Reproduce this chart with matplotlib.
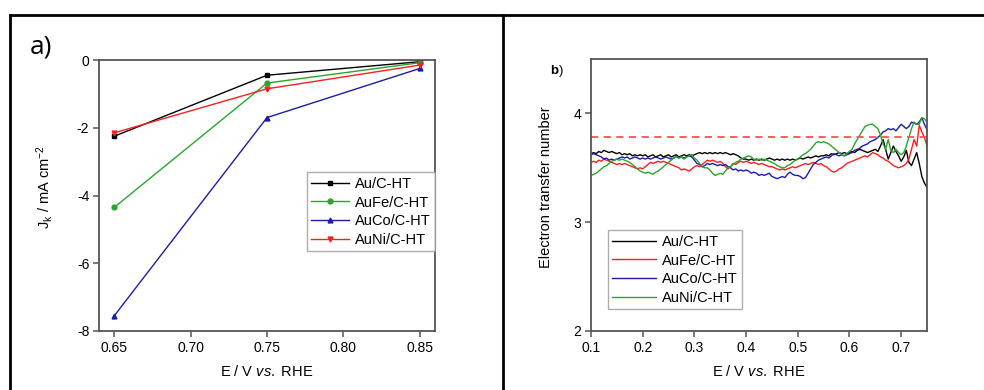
import numpy as np
import matplotlib
matplotlib.use("Agg")
import matplotlib.pyplot as plt
from matplotlib.lines import Line2D

plt.rcParams['font.family'] = ['Liberation Sans', 'DejaVu Sans']
plt.rcParams['mathtext.fontset'] = 'custom'
plt.rcParams['mathtext.rm'] = 'Liberation Sans'
plt.rcParams['mathtext.it'] = 'Liberation Sans:italic'
plt.rcParams['mathtext.bf'] = 'Liberation Sans:bold'

# ---------------- data: panel a ----------------
E_a = [0.65, 0.75, 0.85]
jk_au = [-2.25, -0.45, -0.05]
jk_aufe = [-4.35, -0.68, -0.08]
jk_auco = [-7.55, -1.70, -0.25]
jk_auni = [-2.15, -0.85, -0.15]
labels = ['Au/C-HT', 'AuFe/C-HT', 'AuCo/C-HT', 'AuNi/C-HT']

# ---------------- data: panel b ----------------
E_b = np.round(np.arange(0.100, 0.7501, 0.005), 3)
n_au = [3.63,3.64,3.63,3.65,3.64,3.66,3.65,3.64,3.65,3.64,
        3.63,3.64,3.62,3.63,3.62,3.63,3.61,3.62,3.61,3.62,
        3.61,3.62,3.60,3.61,3.62,3.60,3.61,3.62,3.60,3.61,
        3.62,3.60,3.61,3.62,3.60,3.61,3.62,3.61,3.62,3.61,
        3.62,3.63,3.64,3.63,3.64,3.63,3.64,3.63,3.64,3.63,
        3.64,3.63,3.64,3.63,3.62,3.63,3.62,3.61,3.59,3.58,
        3.58,3.57,3.58,3.57,3.58,3.57,3.58,3.57,3.58,3.59,
        3.58,3.57,3.58,3.57,3.58,3.57,3.58,3.57,3.58,3.57,
        3.58,3.59,3.58,3.59,3.60,3.59,3.60,3.61,3.60,3.61,
        3.61,3.62,3.61,3.63,3.62,3.63,3.64,3.63,3.64,3.63,
        3.64,3.65,3.64,3.66,3.67,3.66,3.65,3.64,3.65,3.66,
        3.67,3.65,3.70,3.76,3.67,3.58,3.64,3.70,3.65,3.61,
        3.56,3.60,3.66,3.55,3.52,3.58,3.64,3.54,3.42,3.36,
        3.32]
n_aufe = [3.55,3.56,3.55,3.57,3.56,3.58,3.57,3.56,3.55,3.54,
          3.53,3.54,3.53,3.54,3.53,3.52,3.51,3.50,3.49,3.50,
          3.49,3.51,3.53,3.55,3.54,3.55,3.56,3.55,3.56,3.55,
          3.54,3.53,3.52,3.51,3.50,3.48,3.49,3.48,3.47,3.49,
          3.51,3.52,3.51,3.53,3.55,3.57,3.56,3.57,3.56,3.55,
          3.56,3.54,3.51,3.49,3.51,3.54,3.53,3.55,3.56,3.55,
          3.56,3.55,3.54,3.55,3.54,3.53,3.54,3.53,3.52,3.51,
          3.51,3.50,3.49,3.48,3.49,3.48,3.49,3.50,3.51,3.50,
          3.51,3.52,3.53,3.54,3.53,3.54,3.55,3.54,3.53,3.54,
          3.52,3.51,3.49,3.47,3.46,3.47,3.49,3.50,3.52,3.54,
          3.55,3.56,3.57,3.58,3.59,3.60,3.61,3.60,3.62,3.64,
          3.63,3.62,3.60,3.59,3.57,3.56,3.54,3.52,3.51,3.50,
          3.51,3.52,3.54,3.58,3.67,3.76,3.70,3.89,3.83,3.78,
          3.70]
n_auco = [3.62,3.63,3.62,3.61,3.60,3.58,3.59,3.57,3.58,3.57,
          3.58,3.59,3.60,3.59,3.60,3.58,3.59,3.60,3.59,3.58,
          3.59,3.58,3.59,3.58,3.59,3.60,3.59,3.58,3.59,3.60,
          3.59,3.58,3.59,3.60,3.59,3.60,3.59,3.60,3.61,3.60,
          3.57,3.54,3.53,3.51,3.52,3.54,3.53,3.54,3.53,3.52,
          3.53,3.52,3.53,3.51,3.50,3.48,3.49,3.47,3.48,3.47,
          3.48,3.47,3.45,3.46,3.45,3.43,3.44,3.43,3.44,3.45,
          3.42,3.41,3.40,3.41,3.42,3.41,3.44,3.46,3.44,3.43,
          3.43,3.42,3.40,3.41,3.45,3.49,3.53,3.55,3.57,3.58,
          3.59,3.60,3.59,3.61,3.63,3.62,3.61,3.62,3.61,3.62,
          3.63,3.64,3.66,3.67,3.68,3.70,3.71,3.72,3.74,3.75,
          3.76,3.78,3.80,3.83,3.84,3.86,3.85,3.86,3.84,3.87,
          3.90,3.88,3.86,3.88,3.92,3.91,3.90,3.92,3.96,3.90,
          3.85]
n_auni = [3.43,3.44,3.45,3.47,3.49,3.51,3.52,3.54,3.56,3.57,
          3.58,3.57,3.58,3.57,3.56,3.55,3.53,3.51,3.49,3.47,
          3.46,3.45,3.46,3.45,3.44,3.46,3.47,3.49,3.51,3.53,
          3.55,3.57,3.59,3.60,3.59,3.60,3.58,3.60,3.61,3.62,
          3.59,3.57,3.54,3.51,3.50,3.50,3.48,3.45,3.43,3.44,
          3.45,3.44,3.47,3.50,3.51,3.53,3.55,3.56,3.58,3.59,
          3.60,3.61,3.60,3.58,3.57,3.58,3.57,3.58,3.57,3.56,
          3.55,3.54,3.52,3.51,3.50,3.50,3.52,3.53,3.55,3.57,
          3.58,3.60,3.62,3.63,3.65,3.67,3.70,3.73,3.74,3.73,
          3.74,3.73,3.72,3.70,3.68,3.66,3.64,3.62,3.61,3.63,
          3.65,3.67,3.72,3.76,3.80,3.84,3.88,3.89,3.90,3.90,
          3.88,3.86,3.80,3.72,3.67,3.76,3.66,3.64,3.67,3.64,
          3.62,3.64,3.70,3.78,3.86,3.92,3.90,3.90,3.96,3.95,
          3.92]
n_ref = 3.78

C_BLACK = '#000000'
C_GREEN = '#2aa52a'
C_BLUE = '#1c1ca8'
C_RED = '#ff1e1e'
SPINE = '#555555'

fig = plt.figure(figsize=(9.84, 3.90), dpi=100)

def style(ax):
    for s in ax.spines.values():
        s.set_color(SPINE)
        s.set_linewidth(1.3)
    ax.tick_params(direction='out', length=4, width=1.1, color=SPINE,
                   labelsize=10, pad=3)

# ---------------- panel a ----------------
axa = fig.add_axes([99/984, 59/390, 336/984, 271/390])
style(axa)
series_a = [(jk_au, C_BLACK, 's'), (jk_aufe, C_GREEN, 'o'),
            (jk_auco, C_BLUE, '^'), (jk_auni, C_RED, 'v')]
for (vals, c, m), lab in zip(series_a, labels):
    axa.plot(E_a, vals, color=c, marker=m, markersize=3.5, lw=1.0, label=lab)
axa.set_xlim(0.64, 0.86)
axa.set_ylim(-8, 0)
axa.set_xticks([0.65, 0.70, 0.75, 0.80, 0.85])
axa.set_xticklabels(['0.65', '0.70', '0.75', '0.80', '0.85'])
axa.set_yticks([0, -2, -4, -6, -8])
axa.set_yticklabels(['0', '-2', '-4', '-6', '-8'])
axa.set_xlabel(r'E / V $\mathit{vs.}$ RHE', fontsize=10.5, labelpad=7)
axa.set_ylabel(r'J$_\mathrm{k}$ / mA cm$^{-2}$', fontsize=10.5)
axa.yaxis.set_label_coords(-0.13, 0.53)
leg = axa.legend(loc='upper right', bbox_to_anchor=(1.0, 0.585), borderaxespad=0,
                 fontsize=10.5, frameon=True, fancybox=False, handlelength=2.6,
                 labelspacing=0.32, borderpad=0.3, handletextpad=0.4)
leg.get_frame().set_edgecolor('#999999')
leg.get_frame().set_linewidth(1.0)

# ---------------- panel b ----------------
axb = fig.add_axes([591/984, 59/390, 336/984, 272/390])
style(axb)
series_b = [(n_au, C_BLACK), (n_aufe, C_RED), (n_auco, C_BLUE), (n_auni, C_GREEN)]
for (vals, c), lab in zip(series_b, labels):
    axb.plot(E_b, vals, color=c, lw=1.0, label=lab)
axb.axhline(n_ref, color='#ff5050', lw=1.3, ls=(0, (4, 3)))
axb.set_xlim(0.1, 0.75)
axb.set_ylim(2, 4.5)
axb.set_xticks([0.1, 0.2, 0.3, 0.4, 0.5, 0.6, 0.7])
axb.set_yticks([2, 3, 4])
axb.set_xlabel(r'E / V $\mathit{vs.}$ RHE', fontsize=10.5, labelpad=7)
axb.set_ylabel('Electron transfer number', fontsize=10.5)
axb.yaxis.set_label_coords(-0.113, 0.53)
legb = axb.legend(loc='lower left', bbox_to_anchor=(0.05, 0.08), borderaxespad=0,
                  fontsize=10.5, frameon=True, fancybox=False, handlelength=3.0,
                  labelspacing=0.32, borderpad=0.3, handletextpad=0.4)
legb.get_frame().set_edgecolor('#999999')
legb.get_frame().set_linewidth(1.0)

# ---------------- panel labels and frame ----------------
fig.text(30/984, 1 - 47/390, 'a)', fontsize=19, family=['Open Sans', 'DejaVu Sans'],
         va='center', ha='left')
fig.text(550/984, 1 - 71/390, r'$\mathbf{b}$)', fontsize=9.5, va='center', ha='left')

def pline(x0, y0, x1, y1):
    fig.add_artist(Line2D([x0/984, x1/984], [1 - y0/390, 1 - y1/390],
                          transform=fig.transFigure, color='black', lw=2.0))

pline(10, 15, 984, 15)
pline(10, 15, 10, 390)
pline(503, 15, 503, 390)

fig.savefig('out.png', dpi=100)
